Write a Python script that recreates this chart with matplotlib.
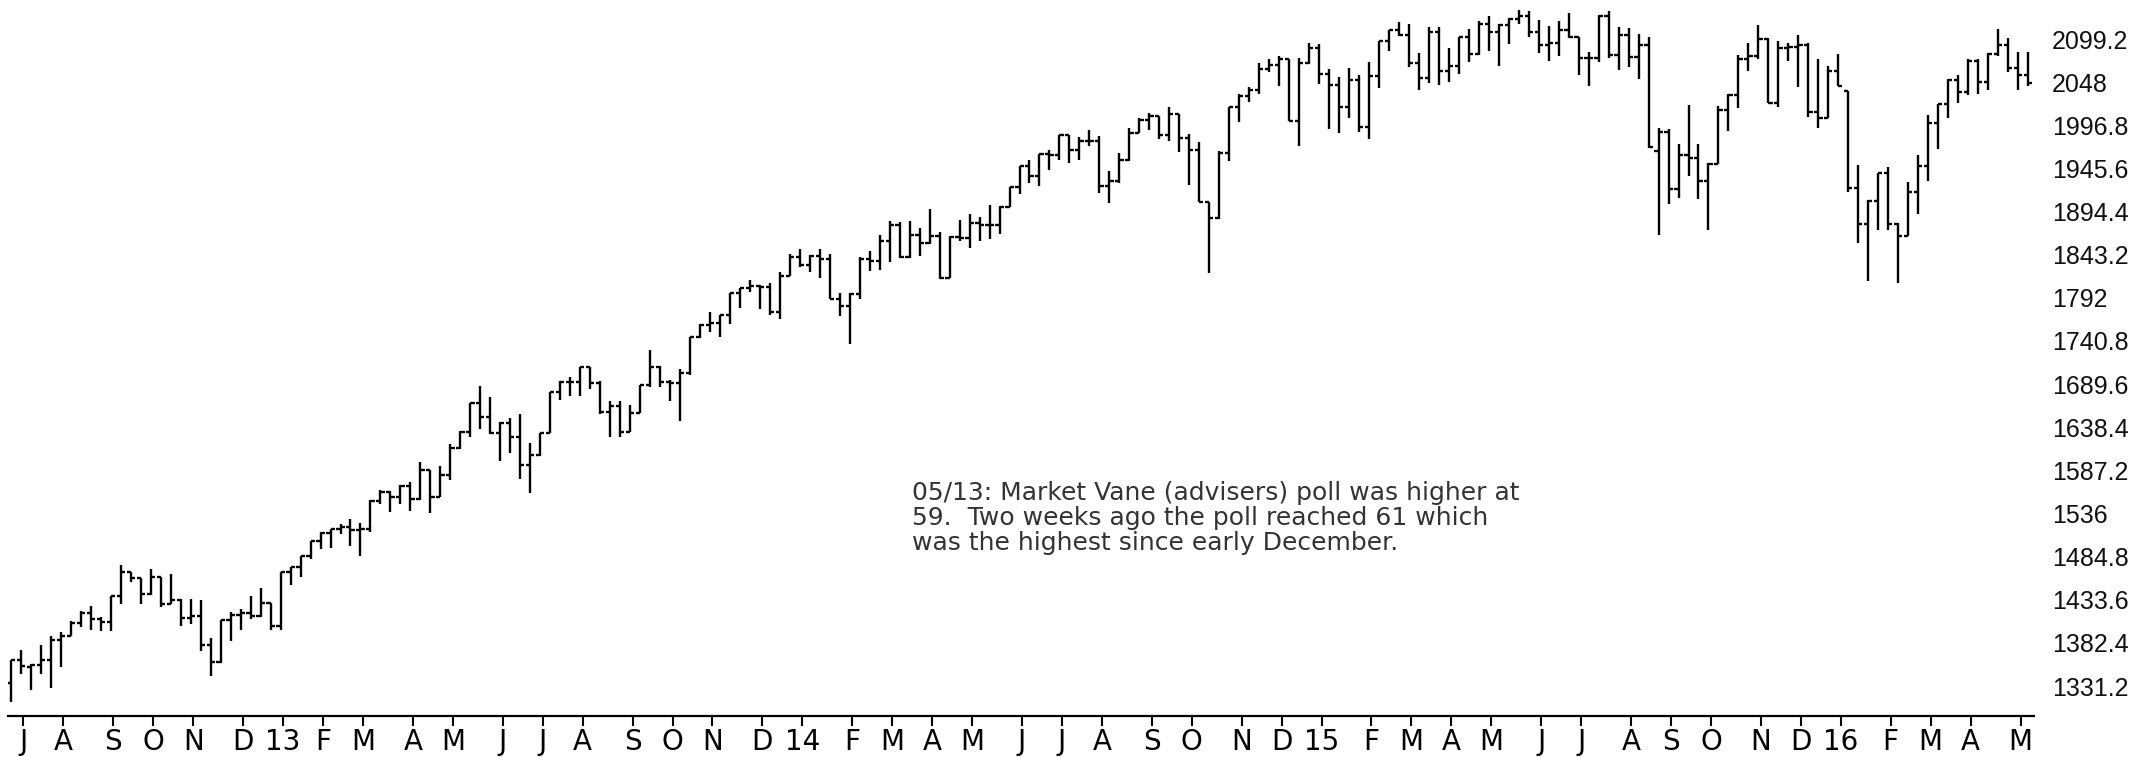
import numpy as np
import pandas as pd
import matplotlib
matplotlib.use("Agg")
import matplotlib.pyplot as plt

# weekly S&P 500 bars, week ending Friday, 2012-06-29 .. 2016-05-13
weeks = pd.date_range("2012-06-29", periods=203, freq="W-FRI")

opens = [
    1335, 1362, 1354, 1356, 1362, 1386, 1391, 1406, 1418, 1411, 1407, 1438, 1466, 1459, 1441, 1461, 1428, 1433, 1412, 1414,
    1380, 1360, 1409, 1416, 1418, 1414, 1430, 1402, 1466, 1472, 1485, 1503, 1513, 1518, 1520, 1516, 1518, 1551, 1561, 1556,
    1569, 1553, 1588, 1555, 1582, 1614, 1633, 1667, 1650, 1631, 1643, 1627, 1593, 1606, 1632, 1680, 1692, 1692, 1710, 1691,
    1656, 1664, 1633, 1655, 1688, 1710, 1692, 1691, 1703, 1745, 1760, 1762, 1771, 1798, 1804, 1806, 1805, 1775, 1818, 1841,
    1831, 1842, 1838, 1790, 1782, 1797, 1838, 1836, 1859, 1878, 1841, 1866, 1857, 1865, 1816, 1864, 1863, 1881, 1878, 1878,
    1900, 1924, 1949, 1937, 1963, 1961, 1985, 1968, 1978, 1978, 1925, 1931, 1955, 1988, 2003, 2008, 1985, 2010, 1982, 1968,
    1906, 1887, 1964, 2018, 2032, 2039, 2064, 2068, 2075, 2002, 2071, 2089, 2058, 2045, 2019, 2051, 1995, 2055, 2097, 2110,
    2104, 2071, 2053, 2108, 2061, 2067, 2102, 2081, 2117, 2108, 2116, 2123, 2126, 2107, 2092, 2094, 2110, 2102, 2077, 2077,
    2127, 2080, 2104, 2078, 2092, 1966, 1989, 1921, 1961, 1958, 1931, 1951, 2015, 2033, 2075, 2079, 2099, 2023, 2089, 2090,
    2092, 2012, 2005, 2061, 2038, 1922, 1880, 1907, 1940, 1880, 1865, 1918, 1948, 2000, 2022, 2050, 2036, 2073, 2048, 2081,
    2092, 2065, 2057,
]
highs = [
    1362, 1374, 1357, 1380, 1390, 1395, 1408, 1420, 1426, 1413, 1438, 1475, 1467, 1460, 1470, 1461, 1464, 1434, 1434, 1433,
    1388, 1409, 1419, 1423, 1438, 1448, 1430, 1467, 1472, 1485, 1503, 1514, 1518, 1524, 1530, 1525, 1552, 1564, 1563, 1570,
    1573, 1597, 1588, 1592, 1618, 1634, 1667, 1687, 1674, 1644, 1649, 1654, 1620, 1632, 1680, 1693, 1698, 1710, 1710, 1693,
    1669, 1670, 1665, 1689, 1730, 1711, 1695, 1708, 1745, 1761, 1775, 1771, 1798, 1804, 1813, 1807, 1809, 1823, 1844, 1850,
    1843, 1850, 1844, 1798, 1798, 1841, 1847, 1867, 1883, 1882, 1883, 1875, 1897, 1870, 1865, 1884, 1891, 1888, 1902, 1901,
    1924, 1949, 1955, 1963, 1968, 1985, 1985, 1983, 1991, 1984, 1942, 1964, 1994, 2006, 2011, 2008, 2019, 2010, 1986, 1977,
    1906, 1966, 2018, 2034, 2042, 2071, 2075, 2079, 2075, 2077, 2094, 2093, 2064, 2054, 2065, 2057, 2072, 2097, 2110, 2119,
    2117, 2083, 2114, 2114, 2089, 2102, 2111, 2120, 2126, 2117, 2124, 2134, 2133, 2122, 2115, 2121, 2130, 2102, 2084, 2128,
    2132, 2114, 2112, 2105, 2102, 1993, 1992, 1975, 2021, 1974, 1952, 2020, 2034, 2080, 2094, 2116, 2100, 2097, 2094, 2104,
    2094, 2076, 2067, 2081, 2038, 1950, 1908, 1940, 1947, 1881, 1930, 1962, 2009, 2022, 2052, 2056, 2076, 2075, 2083, 2111,
    2100, 2084, 2084,
]
lows = [
    1312, 1345, 1326, 1345, 1329, 1354, 1391, 1401, 1398, 1397, 1396, 1429, 1455, 1429, 1439, 1425, 1428, 1403, 1405, 1373,
    1343, 1359, 1385, 1398, 1411, 1413, 1398, 1398, 1451, 1461, 1482, 1494, 1495, 1512, 1497, 1485, 1514, 1547, 1538, 1547,
    1539, 1552, 1536, 1555, 1576, 1613, 1627, 1636, 1630, 1598, 1608, 1577, 1560, 1604, 1631, 1671, 1676, 1676, 1684, 1654,
    1627, 1627, 1633, 1655, 1686, 1686, 1670, 1646, 1700, 1744, 1752, 1746, 1761, 1780, 1799, 1779, 1772, 1767, 1818, 1828,
    1823, 1815, 1790, 1770, 1737, 1791, 1824, 1825, 1834, 1839, 1839, 1842, 1856, 1814, 1815, 1859, 1851, 1859, 1862, 1868,
    1900, 1915, 1928, 1925, 1944, 1955, 1952, 1955, 1972, 1916, 1905, 1928, 1954, 1988, 1991, 1981, 1978, 1965, 1926, 1906,
    1821, 1886, 1954, 2001, 2024, 2034, 2060, 2044, 2002, 1972, 2069, 2046, 1992, 1988, 2005, 1989, 1980, 2041, 2085, 2103,
    2066, 2039, 2047, 2045, 2048, 2058, 2072, 2080, 2085, 2067, 2093, 2117, 2101, 2082, 2073, 2079, 2100, 2056, 2044, 2072,
    2077, 2063, 2066, 2052, 1970, 1867, 1903, 1911, 1936, 1909, 1872, 1951, 1990, 2017, 2061, 2076, 2023, 2019, 2073, 2042,
    2007, 1994, 2005, 2043, 1918, 1857, 1812, 1872, 1872, 1810, 1865, 1891, 1931, 1969, 2006, 2023, 2033, 2034, 2039, 2079,
    2060, 2039, 2044,
]
closes = [
    1362, 1355, 1356, 1362, 1386, 1391, 1406, 1418, 1411, 1407, 1438, 1466, 1460, 1441, 1461, 1428, 1433, 1412, 1414, 1380,
    1360, 1409, 1416, 1418, 1414, 1430, 1402, 1466, 1472, 1485, 1503, 1513, 1518, 1520, 1516, 1518, 1551, 1561, 1556, 1569,
    1553, 1588, 1555, 1582, 1614, 1633, 1667, 1650, 1631, 1643, 1627, 1593, 1606, 1632, 1680, 1692, 1692, 1710, 1691, 1656,
    1664, 1633, 1655, 1688, 1710, 1692, 1691, 1703, 1745, 1760, 1762, 1771, 1798, 1804, 1806, 1805, 1775, 1818, 1841, 1831,
    1842, 1838, 1790, 1782, 1797, 1838, 1836, 1859, 1878, 1841, 1866, 1857, 1865, 1816, 1864, 1863, 1881, 1878, 1878, 1900,
    1924, 1949, 1937, 1963, 1961, 1985, 1968, 1978, 1978, 1925, 1931, 1955, 1988, 2003, 2008, 1985, 2010, 1982, 1968, 1906,
    1887, 1964, 2018, 2032, 2039, 2064, 2068, 2075, 2002, 2071, 2089, 2058, 2045, 2019, 2051, 1995, 2055, 2097, 2110, 2104,
    2071, 2053, 2108, 2061, 2067, 2102, 2081, 2117, 2108, 2116, 2123, 2126, 2107, 2092, 2094, 2110, 2102, 2077, 2077, 2127,
    2080, 2104, 2078, 2092, 1971, 1989, 1921, 1961, 1958, 1931, 1951, 2015, 2033, 2075, 2079, 2099, 2023, 2089, 2090, 2092,
    2012, 2005, 2061, 2044, 1922, 1880, 1907, 1940, 1880, 1865, 1918, 1948, 2000, 2022, 2050, 2036, 2073, 2048, 2081, 2092,
    2065, 2057, 2047,
]

price_ticks = [1331.2, 1382.4, 1433.6, 1484.8, 1536, 1587.2, 1638.4, 1689.6,
               1740.8, 1792, 1843.2, 1894.4, 1945.6, 1996.8, 2048, 2099.2]
price_labels = ["1331.2", "1382.4", "1433.6", "1484.8", "1536", "1587.2", "1638.4", "1689.6",
                "1740.8", "1792", "1843.2", "1894.4", "1945.6", "1996.8", "2048", "2099.2"]

note_lines = [
    "05/13: Market Vane (advisers) poll was higher at",
    "59.  Two weeks ago the poll reached 61 which",
    "was the highest since early December.",
]

idx = np.arange(len(weeks))
W, H = 2156, 757
fig = plt.figure(figsize=(W / 100, H / 100), dpi=100)
fig.patch.set_facecolor("white")
ax = fig.add_axes([8 / W, 41 / H, 2026 / W, 716 / H])

lw = 1.7
ax.vlines(idx, lows, highs, color="black", lw=lw)
ax.hlines(opens, idx - 0.42, idx, color="black", lw=lw)
ax.hlines(closes, idx, idx + 0.42, color="black", lw=lw)

ax.set_xlim(-0.30, 202.6)
ax.set_ylim(1295.6, 2145.5)

# month ticks at the first bar of each month
months = weeks.month
first = [i for i in range(1, len(weeks)) if months[i] != months[i - 1]]
mlabels = []
for i in first:
    d = weeks[i]
    if d.month == 1:
        mlabels.append(d.strftime("%y"))
    else:
        mlabels.append("JFMAMJJASOND"[d.month - 1])
ax.set_xticks(np.array(first) + 0.25)
ax.set_xticklabels(mlabels, family=["Liberation Sans Narrow", "DejaVu Sans"], fontsize=20)
ax.tick_params(axis="x", direction="out", length=7.5, width=1.5, pad=1.5, colors="black")

ax.yaxis.tick_right()
ax.set_yticks(price_ticks)
ax.set_yticklabels(price_labels, family=["Liberation Sans", "DejaVu Sans"], fontsize=18)
ax.tick_params(axis="y", length=0, pad=13, colors="#111111")

for s in ["top", "left", "right"]:
    ax.spines[s].set_visible(False)
ax.spines["bottom"].set_linewidth(1.6)
ax.spines["bottom"].set_color("black")

for k, line in enumerate(note_lines):
    fig.text(912 / W, 1 - (493 + 25 * k) / H, line, fontsize=18, color="#333333",
             family="DejaVu Sans", va="center", ha="left")

fig.savefig("out.png", dpi=100, facecolor="white")
